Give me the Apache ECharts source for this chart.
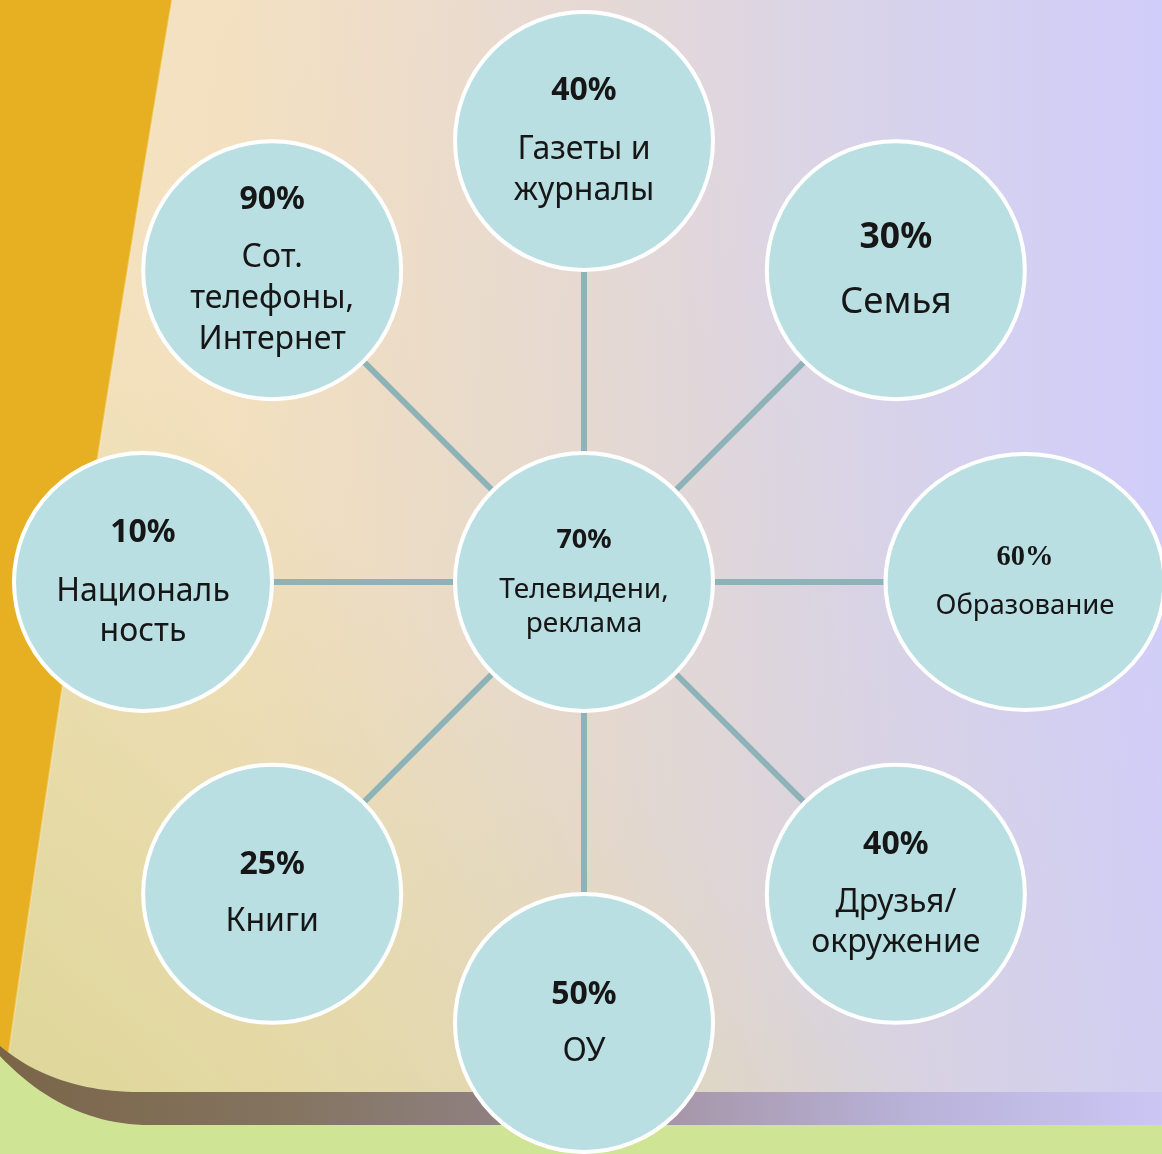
<!DOCTYPE html>
<html><head><meta charset="utf-8">
<script src="https://cdn.jsdelivr.net/npm/echarts@6/dist/echarts.min.js"></script>
<style>html,body{margin:0;padding:0;background:#fff}#c{width:1162px;height:1154px}</style>
</head><body><div id="c"></div>
<script>
// ---- data ----
const categories = ['Газеты и\nжурналы', 'Семья', 'Образование', 'Друзья/\nокружение', 'ОУ', 'Книги', 'Националь\nность', 'Сот.\nтелефоны,\nИнтернет'];
const percents = [40, 30, 60, 40, 50, 25, 10, 90];
const centerCategory = 'Телевидени,\nреклама';
const centerPercent = 70;

// ---- styles (per position, clockwise from top) ----
const SANS = '"Noto Sans", "Open Sans", sans-serif';
const SERIF = '"Liberation Serif", "DejaVu Serif", serif';
const labelStyles = [
  {pf: 32, tf: 32, lh: 41, gap: 18},
  {pf: 35.5, tf: 36.5, lh: 44, gap: 20},
  {pf: 28.5, tf: 27.5, lh: 34, gap: 14, serif: true},
  {pf: 32, tf: 32, lh: 40, gap: 18},
  {pf: 32, tf: 32, lh: 41, gap: 16},
  {pf: 32, tf: 32, lh: 41, gap: 16},
  {pf: 32, tf: 32, lh: 40, gap: 19},
  {pf: 32, tf: 32, lh: 41, gap: 17}
];
const centerStyle = {pf: 27, tf: 28, lh: 34, gap: 16};

function makeLabel(pct, text, st) {
  const lines = text.split('\n').map(l => '{t|' + l + '}').join('\n');
  return {
    show: true,
    position: 'inside',
    formatter: '{p|' + pct + '%}\n{s| }\n' + lines,
    rich: {
      p: {fontFamily: st.serif ? SERIF : SANS, fontWeight: 'bold', fontSize: st.pf, lineHeight: st.lh, color: '#161616'},
      s: {fontSize: 2, lineHeight: st.gap},
      t: {fontFamily: SANS, fontSize: st.tf, lineHeight: st.lh, color: '#161616'}
    }
  };
}

const scatterData = categories.map((c, i) => ({
  name: c,
  value: [1, i],
  symbolSize: i === 2 ? [279, 256] : 258,
  label: makeLabel(percents[i], c, labelStyles[i])
}));
scatterData.push({
  name: centerCategory,
  value: [0, 0],
  symbolSize: 258,
  label: makeLabel(centerPercent, centerCategory, centerStyle)
});

// one spoke series per outer circle: centre -> circle
const spokeSeries = categories.map((c, i) => ({
  type: 'line', coordinateSystem: 'polar', data: [[0, i], [1, i]],
  showSymbol: false, symbol: 'none', z: 2, silent: true, clip: false,
  lineStyle: {color: '#8db2b7', width: 6, cap: 'butt'}
}));

// ---- background helpers ----
function quad(p0, c, p2, n) {
  const pts = [];
  for (let k = 0; k <= n; k++) {
    const t = k / n;
    pts.push([(1-t)*(1-t)*p0[0] + 2*(1-t)*t*c[0] + t*t*p2[0], (1-t)*(1-t)*p0[1] + 2*(1-t)*t*c[1] + t*t*p2[1]]);
  }
  return pts;
}
const W = 1162, H = 1154;
const topCurve = quad([0, 1046], [55, 1092], [140, 1092], 24);
const botCurve = quad([0, 1056], [65, 1125], [150, 1125], 24);
const bandPts = topCurve.concat([[W, 1092], [W, 1125]]).concat(botCurve.slice().reverse());
const greenPts = botCurve.concat([[W, 1125], [W, H], [0, H]]);
const orangeEdge = [];
for (let y = 0; y <= H; y += 20) orangeEdge.push([172 - 0.168 * y + 0.0000123 * y * y, y]);
orangeEdge.push([172 - 0.168 * H + 0.0000123 * H * H, H]);
const orangePts = [[-10, 0]].concat(orangeEdge).concat([[-10, H]]);

const chart = echarts.init(document.getElementById('c'), null, {renderer: 'canvas'});
chart.setOption({
  animation: false,
  graphic: {
    elements: [
      {type: 'rect', z: 0, silent: true, shape: {x: 0, y: 0, width: W, height: H},
        style: {fill: new echarts.graphic.LinearGradient(0, 0, 1, 0, [
          {offset: 0, color: '#f8e5c3'}, {offset: 0.2, color: '#f5e1c4'}, {offset: 0.5, color: '#e6d9d4'},
          {offset: 0.75, color: '#d8d3ea'}, {offset: 1, color: '#d0cdfa'}])}},
      {type: 'rect', z: 0, silent: true, shape: {x: 0, y: 0, width: W, height: H},
        style: {fill: new echarts.graphic.LinearGradient(0.75, 0.25, 0.05, 1, [
          {offset: 0, color: 'rgba(220,213,150,0)'}, {offset: 0.45, color: 'rgba(220,213,150,0.12)'},
          {offset: 1, color: 'rgba(220,213,150,0.95)'}])}},
      {type: 'polygon', z: 0, silent: true, shape: {points: orangePts}, style: {fill: '#e7af22'}},
      {type: 'polyline', z: 0, silent: true, shape: {points: orangeEdge}, style: {stroke: 'rgba(255,238,195,0.35)', lineWidth: 2, fill: null}},
      {type: 'polygon', z: 0, silent: true, shape: {points: greenPts}, style: {fill: '#cfe495'}},
      {type: 'polygon', z: 0, silent: true, shape: {points: bandPts},
        style: {fill: new echarts.graphic.LinearGradient(0, 0, 1, 0, [
          {offset: 0, color: '#7a6548'}, {offset: 0.25, color: '#847460'}, {offset: 0.42, color: '#8f8080'},
          {offset: 0.58, color: '#a696a8'}, {offset: 0.78, color: '#b8b2d8'}, {offset: 1, color: '#cbc6f4'}])}}
    ]
  },
  polar: {center: [584, 582], radius: 441},
  // band layout: each category centred in a 45° sector, first one straight up
  angleAxis: {type: 'category', data: categories, boundaryGap: true, startAngle: 112.5, clockwise: true, show: false},
  radiusAxis: {type: 'value', min: 0, max: 1, show: false},
  series: spokeSeries.concat([
    {type: 'scatter', coordinateSystem: 'polar', data: scatterData, symbol: 'circle', z: 3, clip: false,
      itemStyle: {color: '#badfe3', borderColor: '#ffffff', borderWidth: 4, opacity: 1},
      emphasis: {disabled: true}, silent: true}
  ])
});
</script>
</body></html>
